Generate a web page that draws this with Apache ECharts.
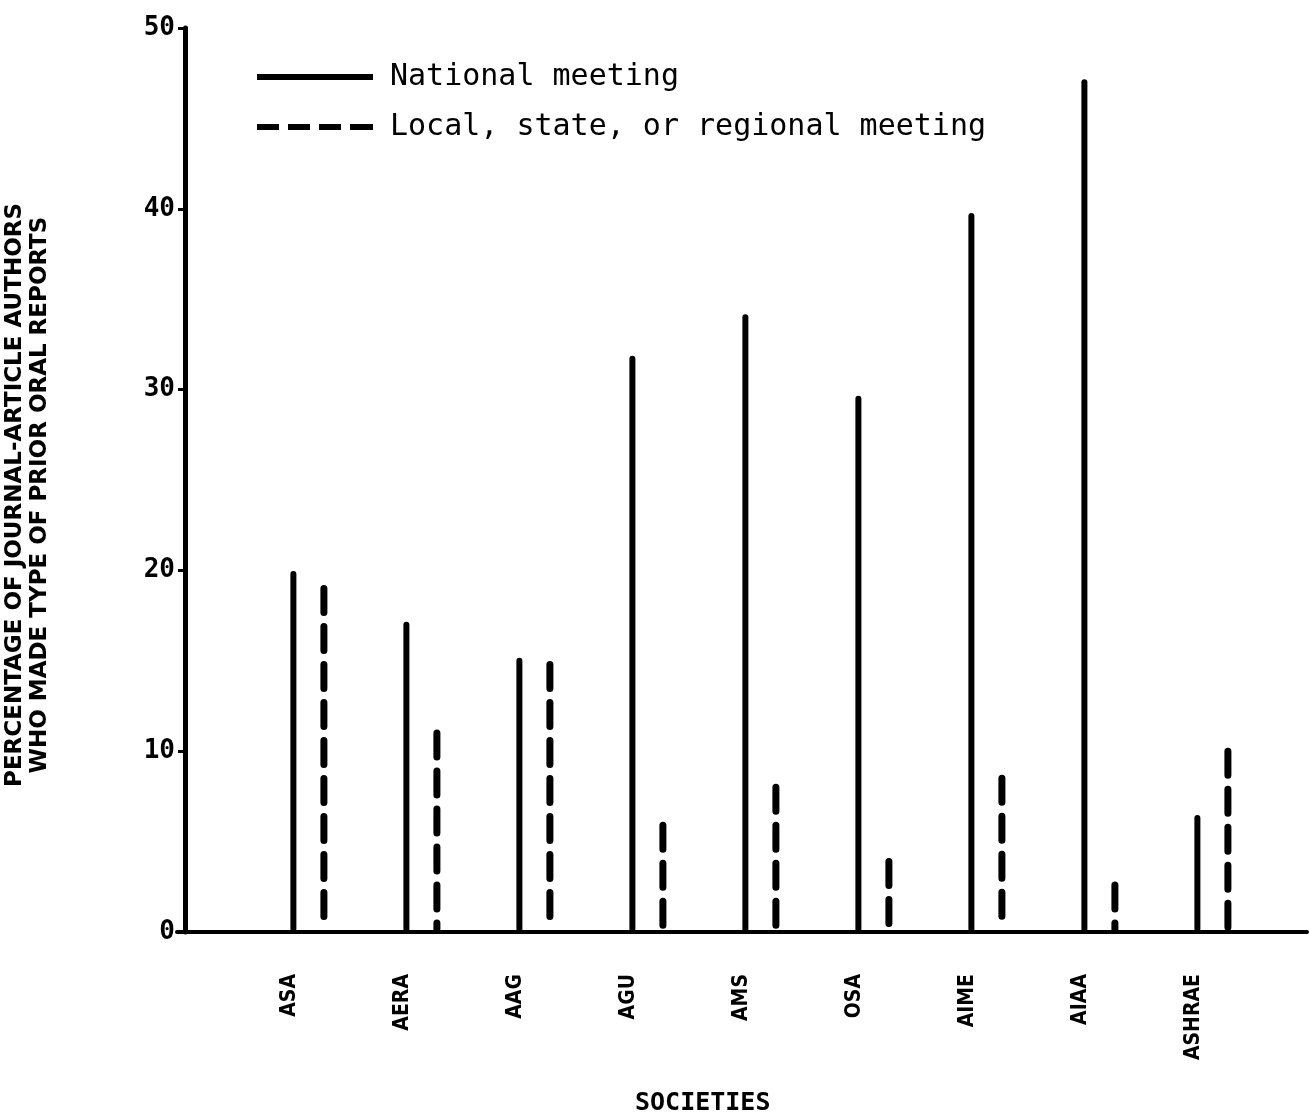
<!DOCTYPE html>
<html>
<head>
<meta charset="utf-8">
<script src="https://cdn.jsdelivr.net/npm/echarts@6/dist/echarts.min.js"></script>
<style>
html,body{margin:0;padding:0;background:#fff;}
#main{width:1314px;height:1118px;}
</style>
</head>
<body>
<div id="main"></div>
<script>
const categories = ['ASA', 'AERA', 'AAG', 'AGU', 'AMS', 'OSA', 'AIME', 'AIAA', 'ASHRAE'];
const nationalMeeting = [19.8, 17.0, 15.0, 31.7, 34.0, 29.5, 39.6, 47.0, 6.3];
const localMeeting = [19.0, 11.0, 14.8, 5.9, 8.0, 3.9, 8.5, 2.6, 10.0];
const yTicks = [0, 10, 20, 30, 40, 50];
const seriesNames = ['National meeting', 'Local, state, or regional meeting'];

const chart = echarts.init(document.getElementById('main'));

function stickSeries(name, values, shift, dash, width) {
  return {
    name: name,
    type: 'custom',
    data: values.map((v, i) => [i + 1 + shift, v]),
    renderItem: function (params, api) {
      const p0 = api.coord([api.value(0), 0]);
      const p1 = api.coord([api.value(0), api.value(1)]);
      return {
        type: 'line',
        shape: { x1: p1[0], y1: p1[1], x2: p0[0], y2: p0[1] - 3 },
        style: {
          stroke: '#000',
          lineWidth: width,
          lineDash: dash,
          lineCap: 'round'
        }
      };
    },
    itemStyle: { color: '#000' },
    z: 3
  };
}

chart.setOption({
  animation: false,
  backgroundColor: '#fff',
  grid: { left: 177, right: 7, top: 28, bottom: 186, containLabel: false, outerBoundsMode: 'none' },
  title: {
    text: 'SOCIETIES',
    left: 630,
    top: 1086,
    textStyle: { fontFamily: 'DejaVu Sans Mono', fontWeight: 'bold', fontSize: 25, color: '#000' }
  },
  legend: {
    orient: 'vertical',
    left: 252,
    top: 54,
    itemWidth: 116,
    itemHeight: 6,
    itemGap: 14,
    selectedMode: false,
    data: [
      { name: seriesNames[0], icon: 'path://M0,0H116V6H0Z' },
      { name: seriesNames[1], icon: 'path://M0,0H22V6H0Z M31,0H53V6H31Z M62,0H84V6H62Z M93,0H116V6H93Z' }
    ],
    textStyle: {
      fontFamily: 'DejaVu Sans Mono',
      fontSize: 30,
      color: '#000',
      lineHeight: 36,
      padding: [0, 0, 0, 12]
    }
  },
  xAxis: {
    type: 'value',
    min: 0,
    max: 10,
    interval: 1,
    axisLine: { show: true, lineStyle: { color: '#000', width: 4 } },
    axisTick: { show: false },
    splitLine: { show: false },
    axisLabel: {
      rotate: 90,
      margin: 42,
      fontFamily: 'DejaVu Sans Condensed',
      fontWeight: 'bold',
      fontSize: 21,
      color: '#000',
      formatter: function (v) {
        const i = Math.round(v) - 1;
        return (i >= 0 && i < categories.length) ? categories[i] : '';
      }
    }
  },
  yAxis: {
    type: 'value',
    min: yTicks[0],
    max: yTicks[yTicks.length - 1],
    interval: 10,
    offset: -8,
    name: 'PERCENTAGE OF JOURNAL-ARTICLE AUTHORS\nWHO MADE TYPE OF PRIOR ORAL REPORTS',
    nameLocation: 'middle',
    nameRotate: 90,
    nameGap: 132,
    nameTextStyle: {
      fontFamily: 'DejaVu Sans',
      fontWeight: 'bold',
      fontSize: 23,
      lineHeight: 25,
      color: '#000',
      padding: [0, 30, 0, 0]
    },
    axisLine: { show: true, lineStyle: { color: '#000', width: 5 } },
    axisTick: { show: true, length: 7, lineStyle: { color: '#000', width: 3 } },
    splitLine: { show: false },
    axisLabel: {
      margin: 10,
      fontFamily: 'DejaVu Sans Mono',
      fontWeight: 'bold',
      fontSize: 26,
      color: '#000'
    }
  },
  series: [
    stickSeries(seriesNames[0], nationalMeeting, 0.03, null, 6),
    stickSeries(seriesNames[1], localMeeting, 0.30, [24, 14], 7)
  ]
});
</script>
</body>
</html>
